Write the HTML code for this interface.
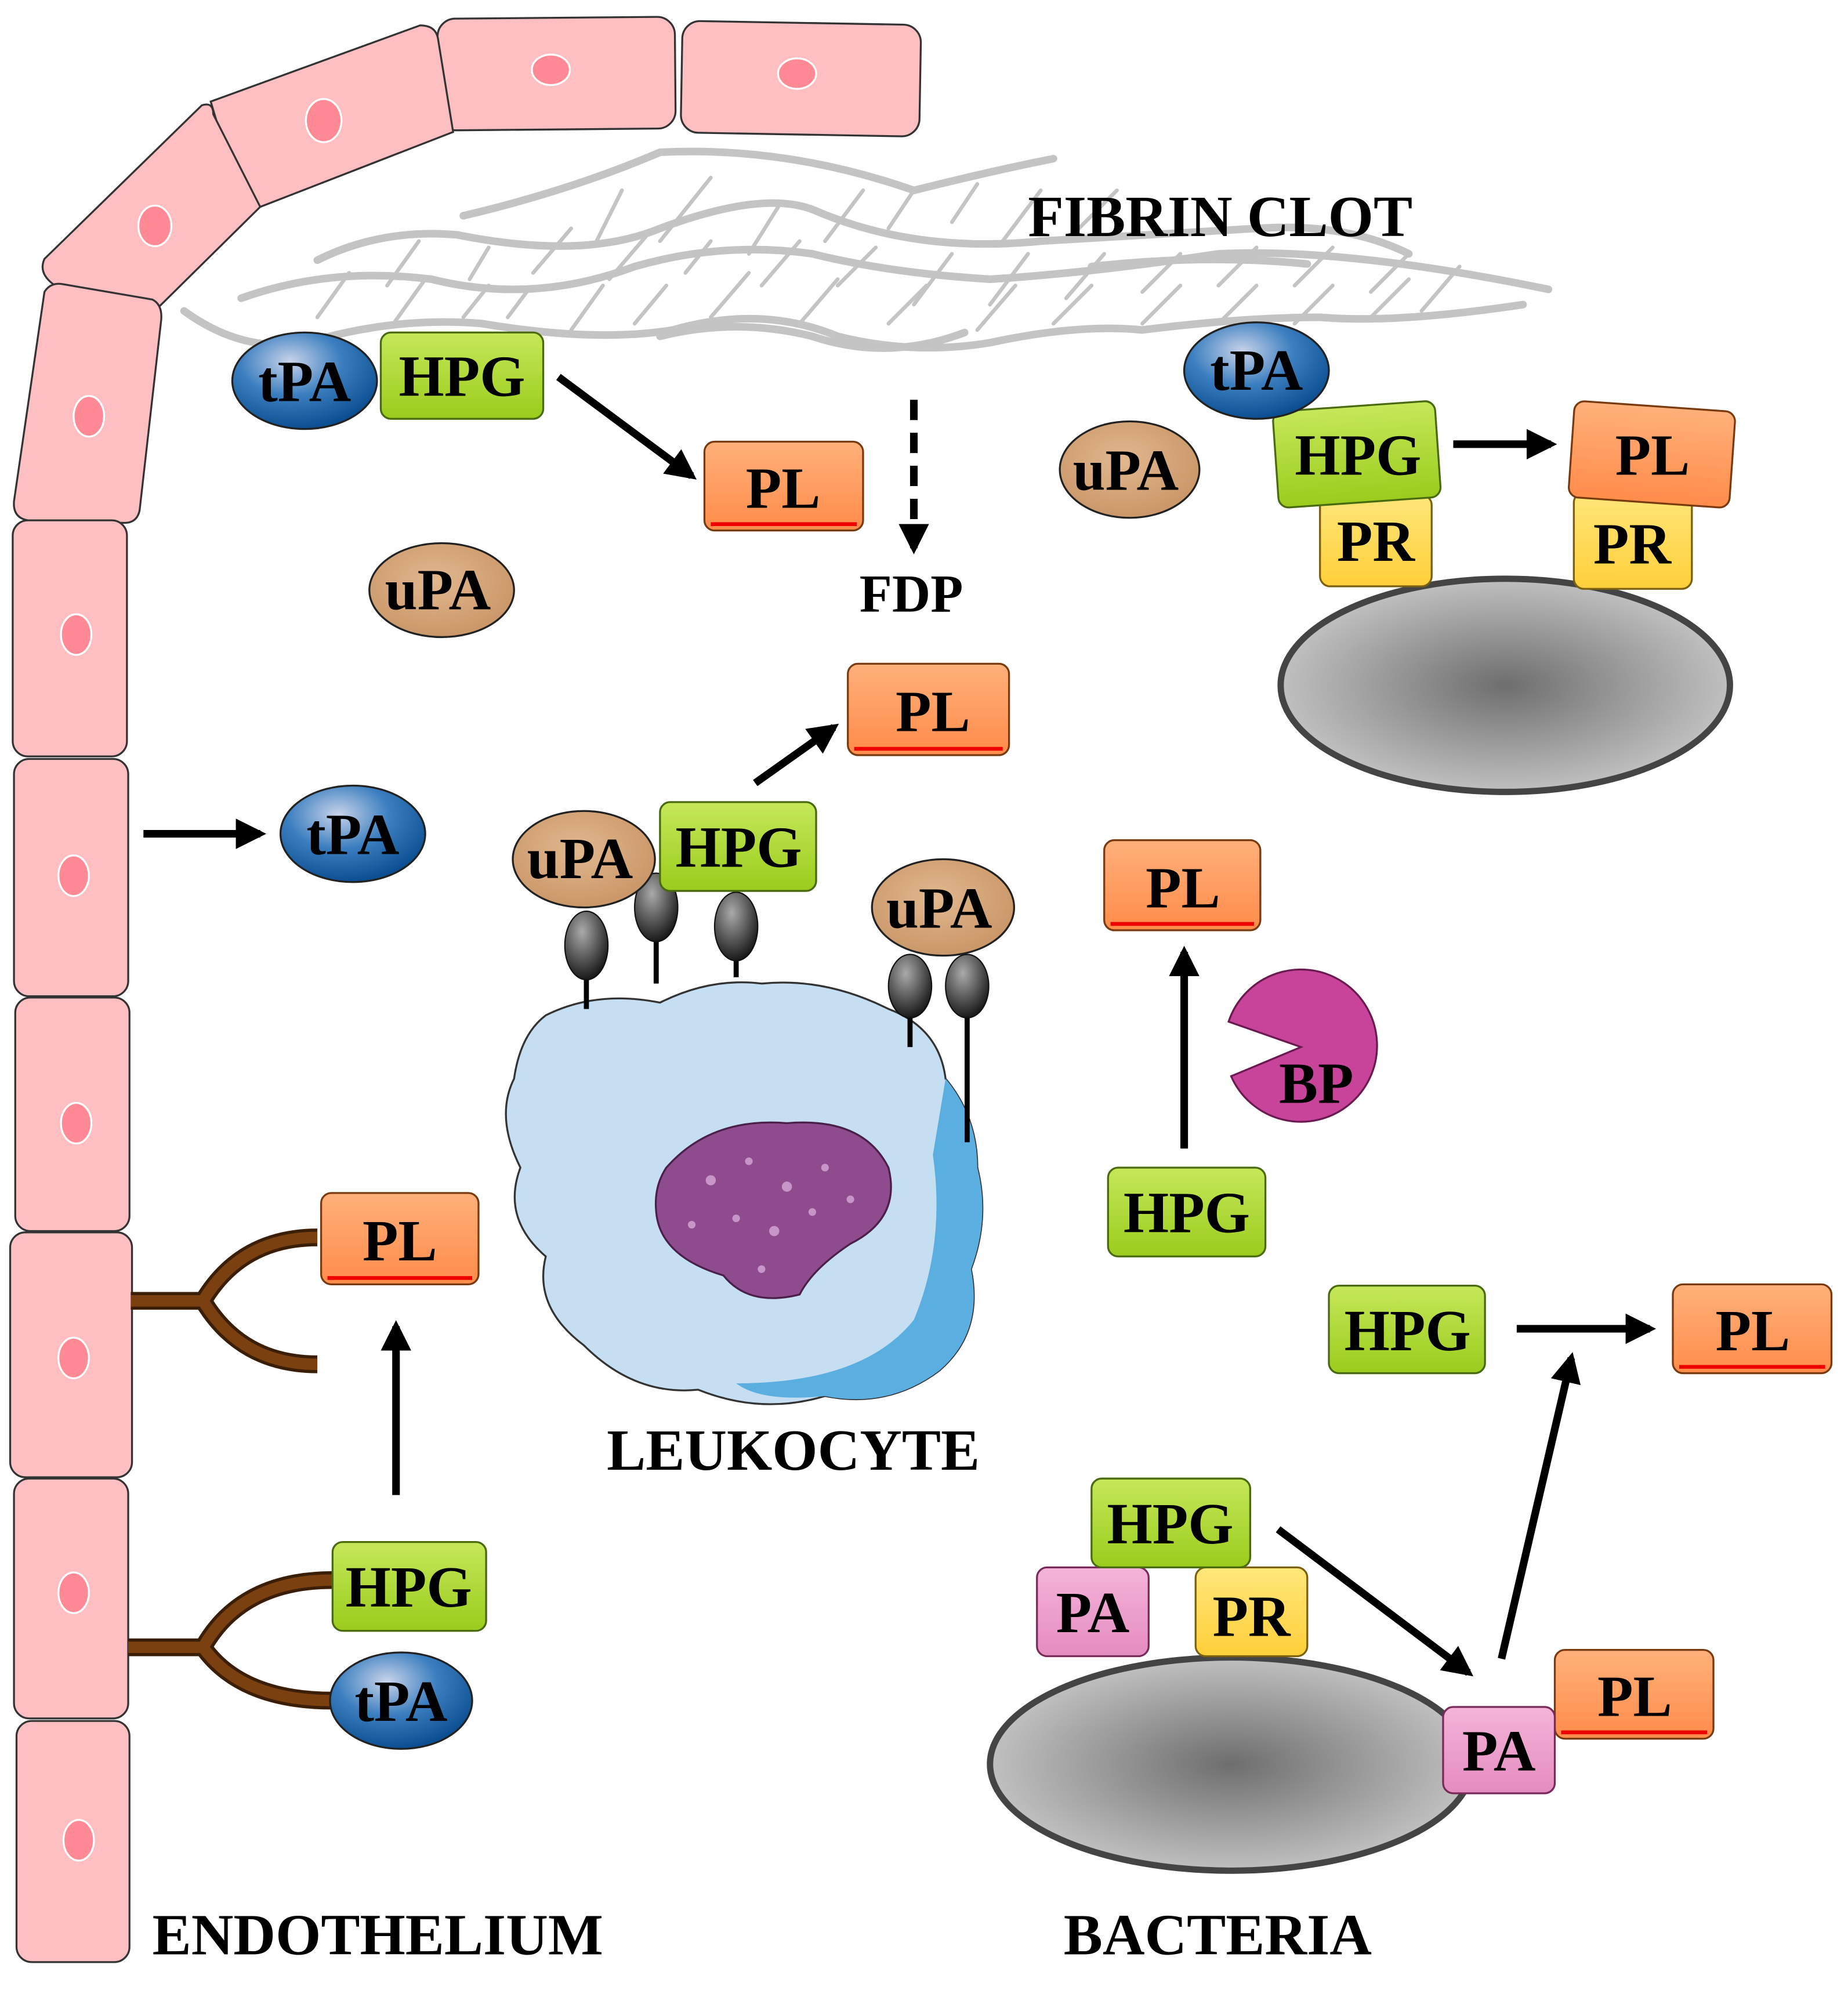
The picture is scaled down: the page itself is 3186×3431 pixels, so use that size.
<!DOCTYPE html>
<html><head><meta charset="utf-8"><style>
html,body{margin:0;padding:0;background:#fff;}
svg{display:block;}
text{font-family:"Liberation Serif",serif;font-weight:bold;}
</style></head><body>
<svg width="3186" height="3431" viewBox="0 0 1456 1568" xmlns="http://www.w3.org/2000/svg">
<defs>
<radialGradient id="gb" cx="0.4" cy="0.3" r="0.7"><stop offset="0" stop-color="#c9d3ea"/><stop offset="0.5" stop-color="#3c7fc0"/><stop offset="1" stop-color="#0b4f92"/></radialGradient>
<linearGradient id="gg" x1="0" y1="0" x2="0" y2="1"><stop offset="0" stop-color="#c5e85a"/><stop offset="1" stop-color="#9bcc1c"/></linearGradient>
<linearGradient id="go" x1="0" y1="0" x2="0" y2="1"><stop offset="0" stop-color="#ffb07a"/><stop offset="1" stop-color="#ff8c4a"/></linearGradient>
<linearGradient id="gy" x1="0" y1="0" x2="0" y2="1"><stop offset="0" stop-color="#ffe77a"/><stop offset="1" stop-color="#ffcf3a"/></linearGradient>
<linearGradient id="gp" x1="0" y1="0" x2="0" y2="1"><stop offset="0" stop-color="#f4b4d8"/><stop offset="1" stop-color="#e48cc0"/></linearGradient>
<radialGradient id="gc" cx="0.5" cy="0.5" r="0.6"><stop offset="0" stop-color="#6e6e6e"/><stop offset="1" stop-color="#d0d0d0"/></radialGradient>
<radialGradient id="gt" cx="0.45" cy="0.4" r="0.65"><stop offset="0" stop-color="#e2b88e"/><stop offset="1" stop-color="#c79466"/></radialGradient>
<radialGradient id="gk" cx="0.4" cy="0.3" r="0.7"><stop offset="0" stop-color="#aaa"/><stop offset="1" stop-color="#1a1a1a"/></radialGradient>
<marker id="ar" viewBox="0 0 10 10" refX="8" refY="5" markerWidth="4" markerHeight="4" orient="auto"><path d="M0,0 L10,5 L0,10 z" fill="#000"/></marker>
</defs>

<g fill="#fdbfc2" stroke="#333" stroke-width="1.5">
<rect x="345" y="14" width="187" height="88" rx="14" transform="rotate(-0.5 438 58)"/>
<rect x="537" y="18" width="188" height="88" rx="14" transform="rotate(1 630 62)"/>
<path d="M166,80 L331,20 Q343,20 345,30 L357,104 L205,163 Q190,162 187,150 Z"/>
<path d="M35,204 L159,83 Q168,80 168,90 L205,163 L126,241 L42,224 Q30,215 35,204 Z"/>
<path d="M35,230 Q40,222 50,224 L120,236 Q128,240 127,252 L110,402 Q108,412 98,412 L22,410 Q10,408 11,395 Z"/>
<rect x="10" y="410" width="90" height="186" rx="12"/>
<rect x="11" y="598" width="90" height="187" rx="12"/>
<rect x="12" y="786" width="90" height="184" rx="12"/>
<rect x="8" y="971" width="96" height="193" rx="12"/>
<rect x="11" y="1165" width="90" height="189" rx="12"/>
<rect x="13" y="1356" width="89" height="190" rx="12"/>
</g>
<g fill="#ff8a96" stroke="#fff" stroke-width="1.5">
<ellipse cx="434" cy="55" rx="15" ry="12"/><ellipse cx="628" cy="58" rx="15" ry="12"/>
<ellipse cx="255" cy="95" rx="14" ry="17"/><ellipse cx="122" cy="178" rx="13" ry="16"/>
<ellipse cx="70" cy="328" rx="12" ry="16"/><ellipse cx="60" cy="500" rx="12" ry="16"/>
<ellipse cx="58" cy="690" rx="12" ry="16"/><ellipse cx="60" cy="885" rx="12" ry="16"/>
<ellipse cx="58" cy="1070" rx="12" ry="16"/><ellipse cx="58" cy="1255" rx="12" ry="16"/>
<ellipse cx="62" cy="1450" rx="12" ry="16"/>
</g>

<g fill="none" stroke="#c4c4c4" stroke-width="6" stroke-linecap="round">
<path d="M365,170 Q450,150 520,120 Q620,115 720,150 Q780,135 830,125"/>
<path d="M250,205 Q300,180 360,185 Q460,205 520,180 Q600,150 640,165 Q720,200 820,190 Q900,185 990,180 Q1060,175 1110,200"/>
<path d="M190,235 Q260,210 340,220 Q420,240 500,210 Q570,190 640,200 Q700,215 780,220 Q860,215 960,200 Q1060,195 1220,228"/>
<path d="M145,245 Q200,285 260,265 Q320,250 380,255 Q470,270 530,260 Q600,240 660,265 Q720,280 780,270 Q850,255 900,260 Q980,250 1040,250 Q1100,255 1200,240"/>
<path d="M520,265 Q580,250 640,265 Q700,285 760,262"/>
<path d="M860,210 Q950,200 1030,208"/>
</g>
<g stroke="#c4c4c4" stroke-width="3" stroke-linecap="round">
<path d="M470,190 L490,150 M520,190 L560,140 M590,200 L615,160 M650,190 L680,150 M700,180 L720,150 M750,175 L770,145 M790,190 L820,150 M850,180 L880,150"/>
<path d="M305,225 L330,190 M370,220 L385,195 M420,215 L450,180 M480,220 L510,185 M540,215 L560,190 M600,225 L630,190 M660,225 L690,195 M720,240 L750,200 M780,240 L810,200 M840,235 L870,200 M900,230 L930,200 M960,225 L990,195 M1020,225 L1050,195 M1080,230 L1110,200"/>
<path d="M250,250 L275,215 M310,255 L335,220 M365,250 L385,225 M400,250 L415,230 M450,260 L475,225 M500,255 L525,225 M560,250 L590,215 M630,255 L660,220 M700,255 L730,225 M770,260 L800,225 M830,255 L860,225 M900,255 L930,225 M960,255 L990,225 M1020,255 L1050,225 M1080,250 L1110,220 M1120,245 L1150,210"/>
</g>
<text x="810" y="186" font-size="46">FIBRIN CLOT</text>

<g font-size="46" text-anchor="middle">
<ellipse cx="240" cy="300" rx="57" ry="38" fill="url(#gb)" stroke="#222" stroke-width="1.5"/><text x="240" y="316">tPA</text>
<rect x="300" y="262" width="128" height="68" rx="8" fill="url(#gg)" stroke="#4a6a10" stroke-width="1.5"/><text x="364" y="312">HPG</text>
<line x1="440" y1="297" x2="545" y2="375" stroke="#000" stroke-width="6" marker-end="url(#ar)"/>
<rect x="555" y="348" width="125" height="70" rx="8" fill="url(#go)" stroke="#7a3a10" stroke-width="1.5"/><path d="M560,413 L675,413" stroke="#e00" stroke-width="3"/><text x="617" y="400">PL</text>
<line x1="720" y1="315" x2="720" y2="432" stroke="#000" stroke-width="6" stroke-dasharray="16,10" marker-end="url(#ar)"/>
<text x="718" y="482" font-size="42">FDP</text>
<ellipse cx="348" cy="465" rx="57" ry="37" fill="url(#gt)" stroke="#222" stroke-width="1.5"/><text x="345" y="480">uPA</text>

<ellipse cx="890" cy="370" rx="55" ry="38" fill="url(#gt)" stroke="#222" stroke-width="1.5"/><text x="887" y="386">uPA</text>
<ellipse cx="1186" cy="540" rx="177" ry="84" fill="url(#gc)" stroke="#444" stroke-width="5"/>
<rect x="1040" y="390" width="88" height="72" rx="8" fill="url(#gy)" stroke="#7a6010" stroke-width="1.5"/><text x="1084" y="442">PR</text>
<rect x="1240" y="388" width="93" height="76" rx="8" fill="url(#gy)" stroke="#7a6010" stroke-width="1.5"/><text x="1286" y="444">PR</text>
<rect x="1005" y="320" width="128" height="76" rx="8" fill="url(#gg)" stroke="#4a6a10" stroke-width="1.5" transform="rotate(-4 1069 358)"/><text x="1070" y="374">HPG</text>
<ellipse cx="990" cy="292" rx="57" ry="38" fill="url(#gb)" stroke="#222" stroke-width="1.5"/><text x="990" y="307">tPA</text>
<line x1="1145" y1="350" x2="1222" y2="350" stroke="#000" stroke-width="6" marker-end="url(#ar)"/>
<rect x="1238" y="320" width="127" height="76" rx="8" fill="url(#go)" stroke="#7a3a10" stroke-width="1.5" transform="rotate(4 1301 358)"/><text x="1302" y="374">PL</text>

<line x1="113" y1="657" x2="205" y2="657" stroke="#000" stroke-width="6" marker-end="url(#ar)"/>
<ellipse cx="278" cy="657" rx="57" ry="38" fill="url(#gb)" stroke="#222" stroke-width="1.5"/><text x="278" y="673">tPA</text>

<path d="M430,800 Q470,780 520,790 Q560,770 600,775 Q650,770 700,795 Q740,810 745,850 Q770,880 770,920 Q780,960 765,1000 Q775,1050 740,1080 Q700,1110 650,1100 Q600,1115 550,1095 Q500,1100 460,1060 Q420,1030 430,990 Q395,960 410,920 Q390,880 405,850 Q410,815 430,800 Z" fill="#c6def2" stroke="#333" stroke-width="1.5"/>
<path d="M745,850 Q770,880 770,920 Q780,960 765,1000 Q775,1050 740,1080 Q700,1110 650,1100 Q600,1105 580,1090 Q680,1090 720,1040 Q745,980 735,910 Z" fill="#5aaee0"/>
<path d="M525,920 Q560,880 620,885 Q680,880 700,920 Q710,960 670,980 Q640,1000 630,1020 Q590,1030 570,1005 Q520,990 517,955 Q515,935 525,920 Z" fill="#8e4c8e" stroke="#4a204a" stroke-width="1.5"/>
<g fill="#c895c8"><circle cx="560" cy="930" r="4"/><circle cx="590" cy="915" r="3"/><circle cx="620" cy="935" r="4"/><circle cx="650" cy="920" r="3"/><circle cx="580" cy="960" r="3"/><circle cx="610" cy="970" r="4"/><circle cx="640" cy="955" r="3"/><circle cx="670" cy="945" r="3"/><circle cx="545" cy="965" r="3"/><circle cx="600" cy="1000" r="3"/></g>
<g stroke="#000" stroke-width="4"><line x1="462" y1="795" x2="462" y2="745"/><line x1="517" y1="775" x2="517" y2="715"/><line x1="580" y1="770" x2="580" y2="730"/><line x1="717" y1="825" x2="717" y2="775"/><line x1="762" y1="900" x2="762" y2="775"/></g>
<g fill="url(#gk)" stroke="#111" stroke-width="1"><ellipse cx="462" cy="745" rx="17" ry="27"/><ellipse cx="517" cy="715" rx="17" ry="27"/><ellipse cx="580" cy="730" rx="17" ry="27"/><ellipse cx="717" cy="777" rx="17" ry="25"/><ellipse cx="762" cy="777" rx="17" ry="25"/></g>
<ellipse cx="460" cy="677" rx="56" ry="38" fill="url(#gt)" stroke="#222" stroke-width="1.5"/><text x="457" y="692">uPA</text>
<rect x="520" y="632" width="123" height="70" rx="8" fill="url(#gg)" stroke="#4a6a10" stroke-width="1.5"/><text x="582" y="683">HPG</text>
<ellipse cx="743" cy="715" rx="56" ry="38" fill="url(#gt)" stroke="#222" stroke-width="1.5"/><text x="740" y="731">uPA</text>
<line x1="595" y1="617" x2="657" y2="573" stroke="#000" stroke-width="6" marker-end="url(#ar)"/>
<rect x="668" y="523" width="127" height="72" rx="8" fill="url(#go)" stroke="#7a3a10" stroke-width="1.5"/><path d="M673,590 L790,590" stroke="#e00" stroke-width="3"/><text x="735" y="576">PL</text>
<text x="625" y="1158" font-size="46">LEUKOCYTE</text>

<rect x="870" y="662" width="123" height="71" rx="8" fill="url(#go)" stroke="#7a3a10" stroke-width="1.5"/><path d="M875,728 L988,728" stroke="#e00" stroke-width="3"/><text x="932" y="715">PL</text>
<line x1="933" y1="905" x2="933" y2="750" stroke="#000" stroke-width="6" marker-end="url(#ar)"/>
<path d="M1025,825 L968,805 A60,60 0 1 1 970,848 Z" fill="#c8449a" stroke="#6a1a50" stroke-width="1.5"/>
<text x="1037" y="869">BP</text>
<rect x="873" y="920" width="124" height="70" rx="8" fill="url(#gg)" stroke="#4a6a10" stroke-width="1.5"/><text x="935" y="971">HPG</text>

<rect x="1047" y="1013" width="123" height="69" rx="8" fill="url(#gg)" stroke="#4a6a10" stroke-width="1.5"/><text x="1109" y="1064">HPG</text>
<line x1="1195" y1="1047" x2="1300" y2="1047" stroke="#000" stroke-width="6" marker-end="url(#ar)"/>
<rect x="1318" y="1012" width="125" height="70" rx="8" fill="url(#go)" stroke="#7a3a10" stroke-width="1.5"/><path d="M1323,1077 L1438,1077" stroke="#e00" stroke-width="3"/><text x="1381" y="1064">PL</text>

<ellipse cx="970" cy="1390" rx="190" ry="84" fill="url(#gc)" stroke="#444" stroke-width="5"/>
<rect x="817" y="1235" width="88" height="70" rx="8" fill="url(#gp)" stroke="#7a2a5a" stroke-width="1.5"/><text x="861" y="1286">PA</text>
<rect x="942" y="1235" width="88" height="70" rx="8" fill="url(#gy)" stroke="#7a6010" stroke-width="1.5"/><text x="986" y="1289">PR</text>
<rect x="860" y="1165" width="125" height="70" rx="8" fill="url(#gg)" stroke="#4a6a10" stroke-width="1.5"/><text x="922" y="1216">HPG</text>
<line x1="1007" y1="1205" x2="1157" y2="1318" stroke="#000" stroke-width="6" marker-end="url(#ar)"/>
<rect x="1225" y="1300" width="125" height="70" rx="8" fill="url(#go)" stroke="#7a3a10" stroke-width="1.5"/><path d="M1230,1365 L1345,1365" stroke="#e00" stroke-width="3"/><text x="1288" y="1352">PL</text>
<rect x="1137" y="1345" width="88" height="68" rx="8" fill="url(#gp)" stroke="#7a2a5a" stroke-width="1.5"/><text x="1181" y="1395">PA</text>
<line x1="1183" y1="1307" x2="1238" y2="1070" stroke="#000" stroke-width="6" marker-end="url(#ar)"/>

<g fill="none" stroke="#3a1e08" stroke-width="14">
<path d="M103,1025 L160,1025"/><path d="M160,1025 Q190,975 250,975"/><path d="M160,1025 Q190,1075 250,1075"/>
<path d="M101,1298 L160,1298"/><path d="M160,1298 Q190,1245 262,1245"/><path d="M160,1298 Q190,1340 262,1340"/>
</g>
<g fill="none" stroke="#7a4010" stroke-width="9">
<path d="M103,1025 L160,1025"/><path d="M160,1025 Q190,975 250,975"/><path d="M160,1025 Q190,1075 250,1075"/>
<path d="M101,1298 L160,1298"/><path d="M160,1298 Q190,1245 262,1245"/><path d="M160,1298 Q190,1340 262,1340"/>
</g>
<rect x="253" y="940" width="124" height="72" rx="8" fill="url(#go)" stroke="#7a3a10" stroke-width="1.5"/><path d="M258,1007 L372,1007" stroke="#e00" stroke-width="3"/><text x="315" y="993">PL</text>
<line x1="312" y1="1178" x2="312" y2="1045" stroke="#000" stroke-width="6" marker-end="url(#ar)"/>
<rect x="262" y="1215" width="121" height="70" rx="8" fill="url(#gg)" stroke="#4a6a10" stroke-width="1.5"/><text x="322" y="1266">HPG</text>
<ellipse cx="316" cy="1340" rx="56" ry="38" fill="url(#gb)" stroke="#222" stroke-width="1.5"/><text x="316" y="1356">tPA</text>
</g>
<text x="120" y="1540" font-size="46">ENDOTHELIUM</text>
<text x="838" y="1540" font-size="46">BACTERIA</text>
</svg>
</body></html>
